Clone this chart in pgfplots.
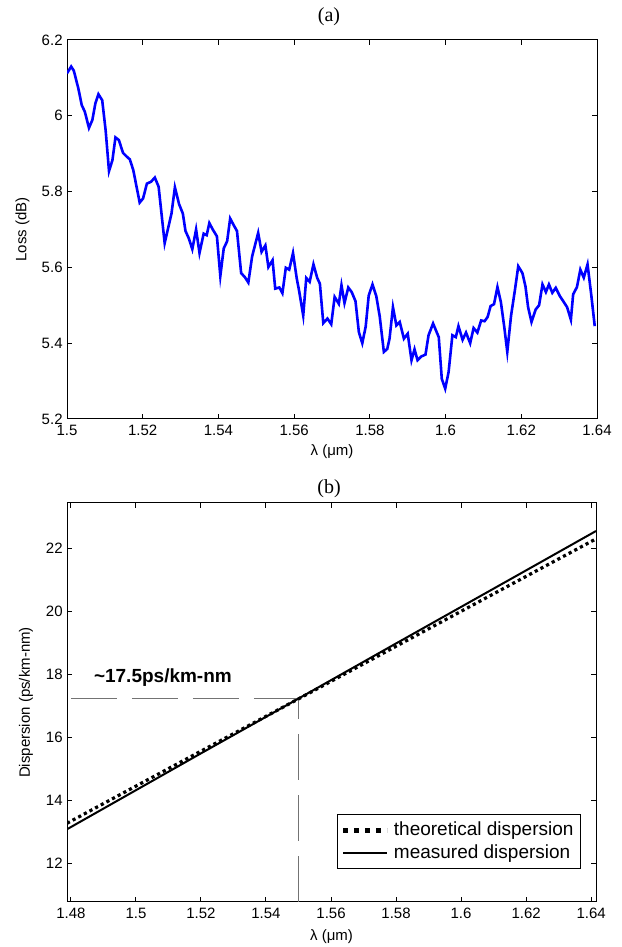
\documentclass[border=0pt]{standalone}
\usepackage{fontspec}
\setmainfont{Liberation Sans}
\newfontfamily\seriffont{Liberation Serif}
\usepackage{pgfplots}
\pgfplotsset{compat=1.18}
\begin{document}
\begin{tikzpicture}[x=1pt,y=1pt]
\path[use as bounding box] (0,0) rectangle (310.5,473.5);
\pgfplotsset{
  mystyle/.style={
    scale only axis,
    anchor=south west,
    tick align=inside,
    major tick length=2.5pt,
    every tick/.style={black, line width=0.5pt},
    axis line style={line width=0.5pt},
    /pgf/number format/assume math mode=true,
    ticklabel style={font=\fontsize{7.5}{9}\selectfont},
    yticklabel style={inner xsep=2pt},
    xticklabel style={inner ysep=3pt},
    label style={font=\fontsize{7.5}{9}\selectfont},
  }
}
\begin{axis}[mystyle,
  at={(33.5pt,264pt)}, width=265pt, height=189.5pt,
  xmin=1.5, xmax=1.64, ymin=5.2, ymax=6.2,
  xtick={1.5,1.52,...,1.64}, ytick={5.2,5.4,5.6,5.8,6,6.2},
  xlabel={λ (μm)}, ylabel={Loss (dB)},
  xlabel style={at={(axis description cs:0.5,-0.0863)}, anchor=center},
  ylabel style={at={(axis description cs:-0.084,0.5)}, anchor=center, rotate=0},
]
\addplot[color={rgb,255:red,0;green,0;blue,255}, line width=1.3pt] coordinates {
(1.5000,6.112)(1.5011,6.130)(1.5018,6.119)(1.5030,6.072)(1.5039,6.028)(1.5047,6.011)
(1.5058,5.968)(1.5067,5.989)(1.5075,6.033)(1.5083,6.057)(1.5093,6.041)(1.5102,5.962)
(1.5111,5.854)(1.5120,5.883)(1.5128,5.943)(1.5137,5.936)(1.5148,5.902)(1.5157,5.893)
(1.5166,5.885)(1.5175,5.857)(1.5192,5.771)(1.5201,5.782)(1.5211,5.821)(1.5222,5.826)
(1.5232,5.837)(1.5242,5.813)(1.5258,5.664)(1.5276,5.742)(1.5285,5.811)(1.5296,5.767)
(1.5306,5.742)(1.5313,5.696)(1.5322,5.676)(1.5331,5.648)(1.5341,5.700)(1.5350,5.638)
(1.5361,5.689)(1.5369,5.685)(1.5376,5.717)(1.5385,5.700)(1.5396,5.682)(1.5405,5.577)
(1.5414,5.650)(1.5423,5.669)(1.5431,5.729)(1.5440,5.712)(1.5449,5.696)(1.5460,5.585)
(1.5470,5.574)(1.5479,5.560)(1.5489,5.629)(1.5505,5.691)(1.5514,5.641)(1.5524,5.658)
(1.5532,5.601)(1.5543,5.619)(1.5550,5.544)(1.5561,5.547)(1.5569,5.532)(1.5578,5.599)
(1.5587,5.594)(1.5597,5.638)(1.5607,5.570)(1.5613,5.539)(1.5624,5.473)(1.5632,5.572)
(1.5641,5.562)(1.5651,5.608)(1.5661,5.572)(1.5668,5.557)(1.5677,5.453)(1.5688,5.465)
(1.5698,5.450)(1.5707,5.522)(1.5718,5.504)(1.5725,5.553)(1.5733,5.506)(1.5743,5.547)
(1.5752,5.535)(1.5762,5.511)(1.5771,5.429)(1.5780,5.400)(1.5789,5.444)(1.5797,5.526)
(1.5807,5.555)(1.5817,5.524)(1.5826,5.471)(1.5837,5.377)(1.5846,5.385)(1.5852,5.412)
(1.5861,5.495)(1.5870,5.447)(1.5879,5.456)(1.5890,5.412)(1.5900,5.425)(1.5910,5.355)
(1.5918,5.384)(1.5926,5.355)(1.5936,5.365)(1.5947,5.370)(1.5955,5.421)(1.5967,5.452)
(1.5982,5.416)(1.5990,5.306)(1.5999,5.280)(1.6008,5.324)(1.6018,5.421)(1.6027,5.416)
(1.6034,5.445)(1.6045,5.409)(1.6054,5.428)(1.6065,5.400)(1.6074,5.440)(1.6084,5.428)
(1.6094,5.460)(1.6103,5.458)(1.6111,5.469)(1.6119,5.498)(1.6128,5.503)(1.6137,5.548)
(1.6146,5.509)(1.6155,5.443)(1.6163,5.377)(1.6173,5.473)(1.6183,5.539)(1.6192,5.603)
(1.6203,5.585)(1.6211,5.550)(1.6218,5.495)(1.6227,5.456)(1.6238,5.489)(1.6247,5.500)
(1.6256,5.555)(1.6265,5.535)(1.6273,5.555)(1.6282,5.533)(1.6291,5.546)(1.6302,5.524)
(1.6312,5.509)(1.6321,5.495)(1.6331,5.462)(1.6337,5.529)(1.6347,5.548)(1.6356,5.594)
(1.6365,5.573)(1.6375,5.608)(1.6385,5.526)(1.6394,5.445)
};
\end{axis}
\begin{axis}[mystyle,
  at={(33.5pt,22.5pt)}, width=264.5pt, height=199.5pt,
  xmin=1.4788, xmax=1.6415, ymin=10.77, ymax=23.44,
  xtick={1.48,1.5,...,1.64}, ytick={12,14,...,22},
  xlabel={λ (μm)}, ylabel={Dispersion (ps/km-nm)},
  xlabel style={at={(axis description cs:0.5,-0.0877)}, anchor=center},
  ylabel style={at={(axis description cs:-0.0775,0.5)}, anchor=center, rotate=0},
  legend style={at={(0.9716,0.0827)}, anchor=south east, draw=black, line width=0.5pt,
    font=\fontsize{9.5}{11}\selectfont, inner sep=1.5pt, row sep=-1pt,
    cells={anchor=west}},
  legend image code/.code={\draw[#1] (0pt,0pt) -- (22pt,0pt);},
]
\addplot[black!55, line width=0.5pt, dash pattern=on 23pt off 7.5pt, forget plot]
  coordinates {(1.48,17.22)(1.55,17.22)};
\addplot[black!55, line width=0.5pt, dash pattern=on 23pt off 7.5pt, forget plot]
  coordinates {(1.55,10.77)(1.55,17.22)};
\addplot[black, line width=1.6pt, dash pattern=on 1.6pt off 1.6pt,
  legend image code/.code={\draw[black, line width=2.5pt, dash pattern=on 2.5pt off 3pt] (0pt,0pt) -- (22pt,0pt);}]
  coordinates {(1.4788,13.27)(1.50,14.45)(1.52,15.56)(1.55,17.22)(1.58,18.89)(1.60,20.00)(1.62,21.11)(1.6415,22.30)};
\addlegendentry{theoretical dispersion}
\addplot[black, line width=1pt]
  coordinates {(1.4788,13.08)(1.50,14.32)(1.52,15.49)(1.55,17.23)(1.58,18.98)(1.60,20.14)(1.62,21.30)(1.6415,22.55)};
\addlegendentry{measured dispersion}
\node[font=\fontsize{9.5}{11}\selectfont\bfseries] at (axis cs:1.5083,17.91) {\textasciitilde 17.5ps/km-nm};
\end{axis}
\node[font=\seriffont\fontsize{10}{12}\selectfont] at (164.5,465.2) {(a)};
\node[font=\seriffont\fontsize{10}{12}\selectfont] at (164.5,229) {(b)};
\end{tikzpicture}
\end{document}
